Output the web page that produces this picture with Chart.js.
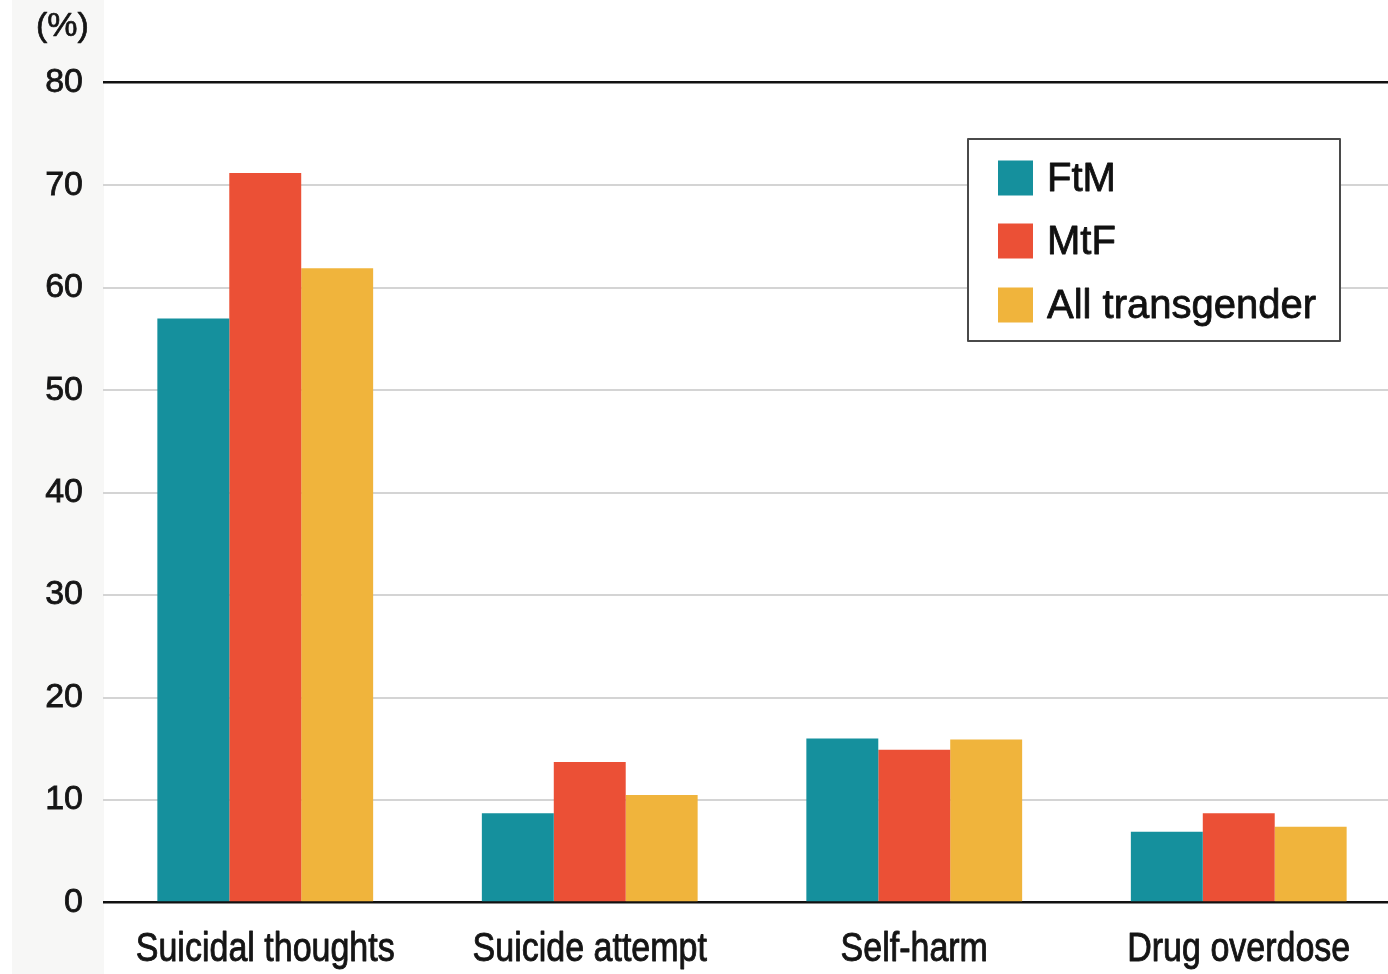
<!DOCTYPE html>
<html>
<head>
<meta charset="utf-8">
<script src="https://cdn.jsdelivr.net/npm/chart.js@4/dist/chart.umd.min.js"></script>
<style>
  html, body { margin: 0; padding: 0; background: #ffffff; overflow: hidden; }
  #wrap { position: relative; width: 1402px; height: 974px; }
  #side { position: absolute; left: 12px; top: 0; width: 92px; height: 974px; background: #f7f7f6; }
  canvas { position: absolute; left: 0; top: 0; }
</style>
</head>
<body>
<div id="wrap">
  <div id="side"></div>
  <canvas id="chart" width="1402" height="974"></canvas>
</div>
<script>
// Share of respondents reporting each outcome, in percent
const categories = ['Suicidal thoughts', 'Suicide attempt', 'Self-harm', 'Drug overdose'];
const ftm = [57, 8.7, 16, 6.9];
const mtf = [71.2, 13.7, 14.9, 8.7];
const allTrans = [61.9, 10.5, 15.9, 7.4];
const seriesNames = ['FtM', 'MtF', 'All transgender'];
const yTicks = [0, 10, 20, 30, 40, 50, 60, 70, 80];

const colors = ['#15909d', '#eb5036', '#f0b43c'];
const sans = '"Liberation Sans", Arial, Helvetica, sans-serif';

// Unit label, condensed category labels and the boxed legend
const overlay = {
  id: 'overlay',
  afterDraw(chart) {
    const c = chart.ctx;
    c.save();
    c.fillStyle = '#151515';
    c.strokeStyle = '#151515';
    c.lineJoin = 'round';
    c.font = '34px ' + sans;
    c.textAlign = 'left';
    c.textBaseline = 'middle';
    c.lineWidth = 0.7;
    c.fillText('(%)', 36, 27);
    c.strokeText('(%)', 36, 27);

    // category names under each group, set narrow
    const xs = chart.scales.x;
    c.font = '40px ' + sans;
    c.textAlign = 'center';
    c.textBaseline = 'alphabetic';
    c.lineWidth = 0.9;
    chart.data.labels.forEach((lab, i) => {
      const px = xs.getPixelForTick(i);
      c.save();
      c.translate(px, 961);
      c.scale(0.85, 1);
      c.fillText(lab, 0, 0);
      c.strokeText(lab, 0, 0);
      c.restore();
    });

    // legend frame
    c.fillStyle = '#ffffff';
    c.fillRect(968, 139, 372, 202);
    c.strokeStyle = '#4a4a4a';
    c.lineWidth = 2;
    c.strokeRect(968, 139, 372, 202);

    const rowY = [178, 241, 305];
    c.textAlign = 'left';
    c.textBaseline = 'middle';
    c.font = '40px ' + sans;
    chart.data.datasets.forEach((ds, i) => {
      c.fillStyle = ds.backgroundColor;
      c.fillRect(998, rowY[i] - 17.5, 35, 35);
      c.fillStyle = '#111111';
      c.strokeStyle = '#111111';
      c.lineWidth = 0.8;
      c.fillText(ds.label, 1047, rowY[i] + 2);
      c.strokeText(ds.label, 1047, rowY[i] + 2);
    });
    c.restore();
  }
};

new Chart(document.getElementById('chart'), {
  type: 'bar',
  data: {
    labels: categories,
    datasets: [
      { label: seriesNames[0], data: ftm, backgroundColor: colors[0] },
      { label: seriesNames[1], data: mtf, backgroundColor: colors[1] },
      { label: seriesNames[2], data: allTrans, backgroundColor: colors[2] }
    ]
  },
  options: {
    responsive: false,
    animation: false,
    devicePixelRatio: 1,
    layout: { padding: { top: 82.7, right: 1, left: 0, bottom: 0 } },
    datasets: {
      bar: { categoryPercentage: 0.665, barPercentage: 1.0, borderWidth: 0 }
    },
    plugins: {
      legend: { display: false },
      tooltip: { enabled: false }
    },
    scales: {
      x: {
        grid: { display: false, drawTicks: false },
        border: { display: false },
        ticks: { display: false },
        afterFit(scale) { scale.height = 71.5; }
      },
      y: {
        min: 0,
        max: 80,
        afterBuildTicks(scale) { scale.ticks = yTicks.map(v => ({ value: v })); },
        grid: {
          drawTicks: false,
          color: ctx => (ctx.tick && (ctx.tick.value === 0 || ctx.tick.value === 80)) ? '#111111' : '#d4d4d4',
          lineWidth: ctx => (ctx.tick && (ctx.tick.value === 0 || ctx.tick.value === 80)) ? 2.5 : 2
        },
        border: { display: false },
        ticks: {
          color: '#151515',
          font: { family: sans, size: 34 },
          padding: 20,
          textStrokeColor: '#151515',
          textStrokeWidth: 0.8
        },
        afterFit(scale) { scale.width = 103; }
      }
    }
  },
  plugins: [overlay]
});
</script>
</body>
</html>
